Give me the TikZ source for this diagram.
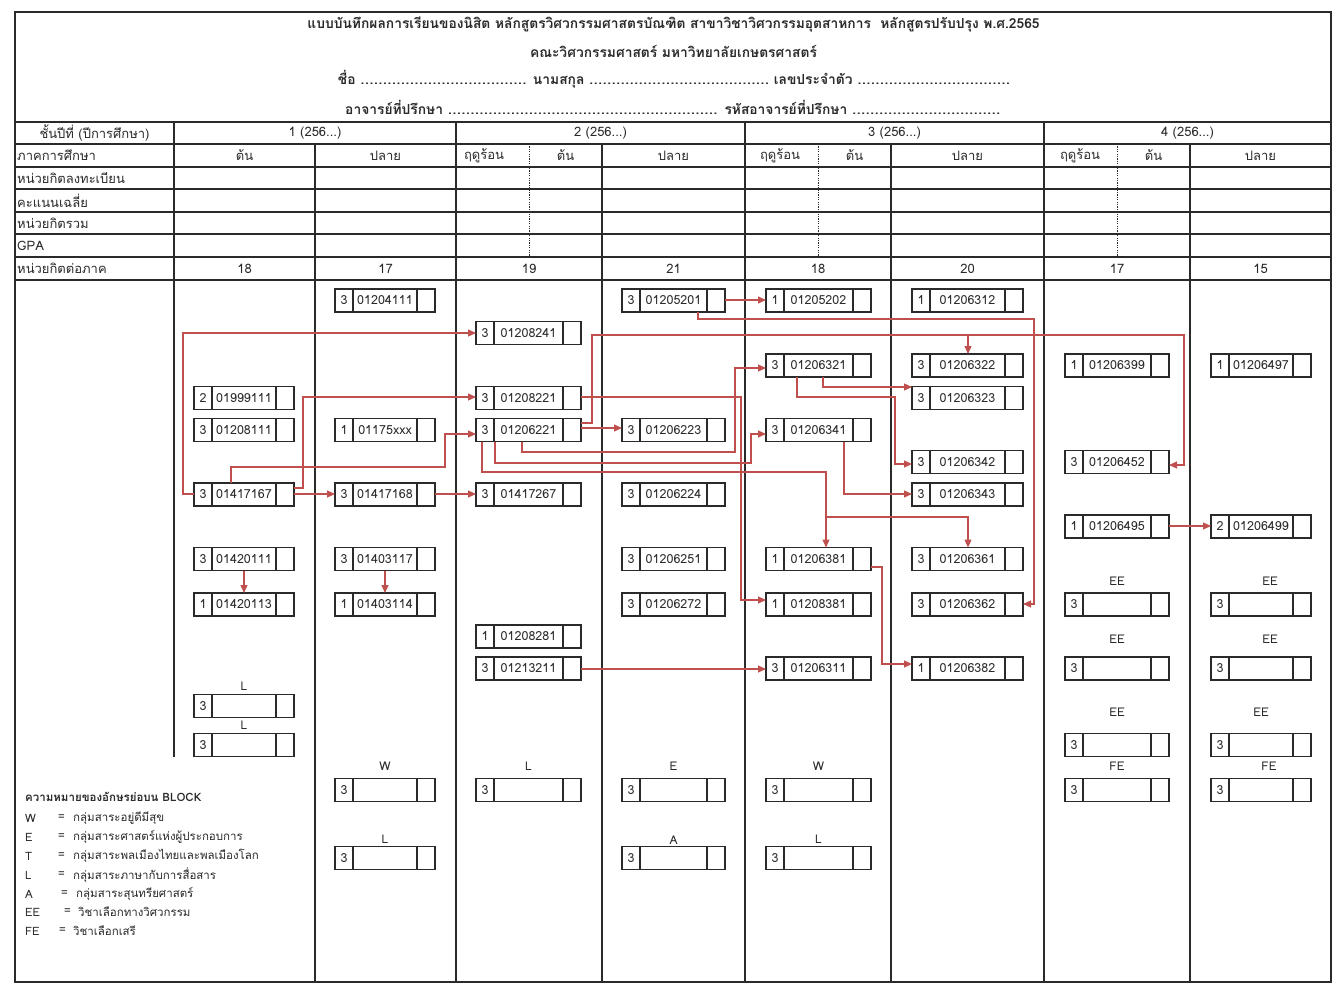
\documentclass[tikz,border=0pt]{standalone}
\usepackage{fontspec}
\setmainfont{Loma}[Script=Thai]
\usetikzlibrary{arrows.meta,calc}
\definecolor{arr}{HTML}{C0504D}
\definecolor{ink}{HTML}{2A2A2A}
\tikzset{
 tbl/.style={line width=1.1pt, draw=ink},
 dotl/.style={line width=0.8pt, draw=ink, dash pattern=on 1.2pt off 1.2pt},
 cbx/.style={draw=ink, line width=1.2pt, minimum height=23pt, inner sep=0pt, outer sep=0pt, fill=white},
 cbline/.style={draw=ink, line width=1.2pt},
 ctxt/.style={font=\fontsize{12.5}{14}\selectfont, inner sep=0pt, text=ink},
 conn/.style={draw=arr, line width=1.1pt, -{Triangle[length=8pt,width=7pt]}},
 hdr/.style={font=\fontsize{13}{15}\selectfont, inner sep=0pt, text=ink},
 hdrl/.style={hdr, anchor=west},
 ttl/.style={font=\bfseries\fontsize{13.8}{16}\selectfont, inner sep=0pt, text=ink},
 lbl/.style={font=\fontsize{12}{14}\selectfont, inner sep=0pt, text=ink},
 leg/.style={font=\fontsize{11.5}{13}\selectfont, inner sep=0pt, anchor=west, text=ink},
}
\newcommand\dts[1]{\makebox[#1pt]{\leaders\hbox to 4.5pt{\hss.\hss}\hfill}}
% name, left x, center y, width, credit, code
\newcommand\crsbox[6]{%
  \node[cbx, minimum width=#4pt, anchor=west] (#1) at (#2,#3) {};
  \draw[cbline] ($(#1.north west)+(18,0)$) -- ($(#1.south west)+(18,0)$);
  \draw[cbline] ($(#1.north east)+(-18,0)$) -- ($(#1.south east)+(-18,0)$);
  \node[ctxt] (#1-cr) at ($(#1.west)+(9,0)$) {#5};
  \node[ctxt] (#1-cd) at (#1.center) {#6};
}
\begin{document}
\begin{tikzpicture}[x=1pt,y=-1pt]
\useasboundingbox (0,0) rectangle (1340,1000);
\fill[white] (0,0) rectangle (1340,1000);
% ---------- table frame ----------
\draw[tbl] (15,12) rectangle (1331,982);
\foreach \y in {122,144,167,189,212,234,257,280} \draw[tbl] (15,\y) -- (1331,\y);
\draw[tbl] (174,122) -- (174,757);
\foreach \x in {456,745,1044} \draw[tbl] (\x,122) -- (\x,982);
\foreach \x in {315,602,891,1190} \draw[tbl] (\x,144) -- (\x,982);
\foreach \x in {529,818,1117} \draw[dotl] (\x,144) -- (\x,257);
% ---------- title ----------
\node[ttl] (ttl1) at (673.5,24) {แบบบันทึกผลการเรียนของนิสิต หลักสูตรวิศวกรรมศาสตรบัณฑิต สาขาวิชาวิศวกรรมอุตสาหการ~~หลักสูตรปรับปรุง พ.ศ.2565};
\node[ttl] (ttl2) at (673.5,51) {คณะวิศวกรรมศาสตร์ มหาวิทยาลัยเกษตรศาสตร์};
\node[ttl] (ttl3) at (674,79) {ชื่อ \dts{168} นามสกุล \dts{180} เลขประจำตัว \dts{153}};
\node[ttl] (ttl4) at (673.5,107) {อาจารย์ที่ปรึกษา \dts{272} รหัสอาจารย์ที่ปรึกษา \dts{150}};
% ---------- header rows ----------
\node[hdr] (h0) at (94.5,133) {ชั้นปีที่ (ปีการศึกษา)};
\node[hdr] (y1) at (315,133) {1 (256...)};
\node[hdr] (y2) at (600.5,133) {2 (256...)};
\node[hdr] (y3) at (894.5,133) {3 (256...)};
\node[hdr] (y4) at (1187.5,133) {4 (256...)};
\node[hdrl] (r2) at (17,155.5) {ภาคการศึกษา};
\node[hdrl] (r3) at (17,178) {หน่วยกิตลงทะเบียน};
\node[hdrl] (r4) at (17,200.5) {คะแนนเฉลี่ย};
\node[hdrl] (r5) at (17,223) {หน่วยกิตรวม};
\node[hdrl] (r6) at (17,245.5) {GPA};
\node[hdrl] (r7) at (17,268.5) {หน่วยกิตต่อภาค};
\node[hdr] (s1) at (244.5,155.5) {ต้น};
\node[hdr] (s2) at (385.5,155.5) {ปลาย};
\node[hdr] (s3) at (484,155.5) {ฤดูร้อน};
\node[hdr] (s4) at (565.5,155.5) {ต้น};
\node[hdr] (s5) at (673.5,155.5) {ปลาย};
\node[hdr] (s6) at (780,155.5) {ฤดูร้อน};
\node[hdr] (s7) at (854.5,155.5) {ต้น};
\node[hdr] (s8) at (967.5,155.5) {ปลาย};
\node[hdr] (s9) at (1080,155.5) {ฤดูร้อน};
\node[hdr] (s10) at (1153.5,155.5) {ต้น};
\node[hdr] (s11) at (1260.5,155.5) {ปลาย};
\node[hdr] (n1) at (244.5,268.5) {18};
\node[hdr] (n2) at (385.5,268.5) {17};
\node[hdr] (n3) at (529,268.5) {19};
\node[hdr] (n4) at (673.5,268.5) {21};
\node[hdr] (n5) at (818,268.5) {18};
\node[hdr] (n6) at (967.5,268.5) {20};
\node[hdr] (n7) at (1117,268.5) {17};
\node[hdr] (n8) at (1260.5,268.5) {15};
% ---------- course boxes ----------
% year 1, first
\crsbox{c01999111}{194}{398}{100}{2}{01999111}
\crsbox{c01208111}{194}{430}{100}{3}{01208111}
\crsbox{c01417167}{194}{494.5}{100}{3}{01417167}
\crsbox{c01420111}{194}{559}{100}{3}{01420111}
\crsbox{c01420113}{194}{604.5}{100}{1}{01420113}
\crsbox{aL1}{194}{706}{100}{3}{}
\crsbox{aL2}{194}{745}{100}{3}{}
% year 1, second
\crsbox{c01204111}{335}{300.5}{100}{3}{01204111}
\crsbox{c01175xxx}{335}{430}{100}{1}{01175xxx}
\crsbox{c01417168}{335}{494.5}{100}{3}{01417168}
\crsbox{c01403117}{335}{559}{100}{3}{01403117}
\crsbox{c01403114}{335}{604.5}{100}{1}{01403114}
\crsbox{bW}{335}{790}{100}{3}{}
\crsbox{bL}{335}{858}{100}{3}{}
% year 2, first
\crsbox{c01208241}{476}{333}{105}{3}{01208241}
\crsbox{c01208221}{476}{398}{105}{3}{01208221}
\crsbox{c01206221}{476}{430}{105}{3}{01206221}
\crsbox{c01417267}{476}{494.5}{105}{3}{01417267}
\crsbox{c01208281}{476}{636.5}{105}{1}{01208281}
\crsbox{c01213211}{476}{668.5}{105}{3}{01213211}
\crsbox{cL}{476}{790}{105}{3}{}
% year 2, second
\crsbox{c01205201}{622}{300.5}{103}{3}{01205201}
\crsbox{c01206223}{622}{430}{103}{3}{01206223}
\crsbox{c01206224}{622}{494.5}{103}{3}{01206224}
\crsbox{c01206251}{622}{559}{103}{3}{01206251}
\crsbox{c01206272}{622}{604.5}{103}{3}{01206272}
\crsbox{dE}{622}{790}{103}{3}{}
\crsbox{dA}{622}{858}{103}{3}{}
% year 3, first
\crsbox{c01205202}{766}{300.5}{105}{1}{01205202}
\crsbox{c01206321}{766}{365.5}{105}{3}{01206321}
\crsbox{c01206341}{766}{430}{105}{3}{01206341}
\crsbox{c01206381}{766}{559}{105}{1}{01206381}
\crsbox{c01208381}{766}{604.5}{105}{1}{01208381}
\crsbox{c01206311}{766}{668.5}{105}{3}{01206311}
\crsbox{eW}{766}{790}{105}{3}{}
\crsbox{eL}{766}{858}{105}{3}{}
% year 3, second
\crsbox{c01206312}{912}{300.5}{111}{1}{01206312}
\crsbox{c01206322}{912}{365.5}{111}{3}{01206322}
\crsbox{c01206323}{912}{398}{111}{3}{01206323}
\crsbox{c01206342}{912}{462}{111}{3}{01206342}
\crsbox{c01206343}{912}{494.5}{111}{3}{01206343}
\crsbox{c01206361}{912}{559}{111}{3}{01206361}
\crsbox{c01206362}{912}{604.5}{111}{3}{01206362}
\crsbox{c01206382}{912}{668.5}{111}{1}{01206382}
% year 4, first
\crsbox{c01206399}{1065}{365.5}{104}{1}{01206399}
\crsbox{c01206452}{1065}{462}{104}{3}{01206452}
\crsbox{c01206495}{1065}{526.5}{104}{1}{01206495}
\crsbox{gEE1}{1065}{604.5}{104}{3}{}
\crsbox{gEE2}{1065}{668.5}{104}{3}{}
\crsbox{gEE3}{1065}{745}{104}{3}{}
\crsbox{gFE}{1065}{790}{104}{3}{}
% year 4, second
\crsbox{c01206497}{1211}{365.5}{100}{1}{01206497}
\crsbox{c01206499}{1211}{526.5}{100}{2}{01206499}
\crsbox{hEE1}{1211}{604.5}{100}{3}{}
\crsbox{hEE2}{1211}{668.5}{100}{3}{}
\crsbox{hEE3}{1211}{745}{100}{3}{}
\crsbox{hFE}{1211}{790}{100}{3}{}
% ---------- labels above blocks ----------
\node[lbl] (laL1) at ($(aL1.north)+(0,-8)$) {L};
\node[lbl] (laL2) at ($(aL2.north)+(0,-8)$) {L};
\node[lbl] (lbW) at ($(bW.north)+(0,-12)$) {W};
\node[lbl] (lbL) at ($(bL.north)+(0,-7)$) {L};
\node[lbl] (lcL) at ($(cL.north)+(0,-12)$) {L};
\node[lbl] (ldE) at ($(dE.north)+(0,-12)$) {E};
\node[lbl] (ldA) at ($(dA.north)+(0,-6)$) {A};
\node[lbl] (leW) at ($(eW.north)+(0,-12)$) {W};
\node[lbl] (leL) at ($(eL.north)+(0,-7)$) {L};
\node[lbl] (lgEE1) at ($(gEE1.north)+(0,-12)$) {EE};
\node[lbl] (lgEE2) at ($(gEE2.north)+(0,-18)$) {EE};
\node[lbl] (lgEE3) at ($(gEE3.north)+(0,-21)$) {EE};
\node[lbl] (lgFE) at ($(gFE.north)+(0,-12)$) {FE};
\node[lbl] (lhEE1) at ($(hEE1.north)+(9,-12)$) {EE};
\node[lbl] (lhEE2) at ($(hEE2.north)+(9,-18)$) {EE};
\node[lbl] (lhEE3) at ($(hEE3.north)+(0,-21)$) {EE};
\node[lbl] (lhFE) at ($(hFE.north)+(8,-12)$) {FE};
% ---------- connectors ----------
\draw[conn] ($(c01417167.west)+(0,-0.5)$) -- ++(-11,0) |- (c01208241.west);
\draw[conn] ($(c01417167.east)+(0,-6.5)$) -- ++(9,0) |- ($(c01208221.west)+(0,-1)$);
\draw[conn] ($(c01417167.north west)+(37,0)$) -- ++(0,-16) -| ($(c01206221.west)+(-31,4)$) -- ($(c01206221.west)+(0,4)$);
\draw[conn] ($(c01417167.east)+(0,-0.5)$) -- ($(c01417168.west)+(0,-0.5)$);
\draw[conn] ($(c01417168.east)+(0,-0.5)$) -- ($(c01417267.west)+(0,-0.5)$);
\draw[conn] ($(c01208221.east)+(0,-1)$) -| ($(c01208381.west)+(-25,-4.5)$) -- ($(c01208381.west)+(0,-4.5)$);
\draw[conn] ($(c01206221.east)+(0,-7)$) -- ++(11,0) |- ($(c01206452.east)+(15,-127)$) |- ($(c01206452.east)+(0,3)$);
\draw[conn] ($(c01206322.north)+(0.5,-19)$) -- ($(c01206322.north)+(0.5,0)$);
\draw[conn] ($(c01206221.east)+(0,-2)$) -- ($(c01206223.west)+(0,-2)$);
\draw[conn] ($(c01206221.south west)+(46,0)$) -- ++(0,10.5) -| ($(c01206321.west)+(-31,2.5)$) -- ($(c01206321.west)+(0,2.5)$);
\draw[conn] ($(c01206221.south west)+(19,0)$) -- ++(0,21.5) -| ($(c01206341.west)+(-15,4)$) -- ($(c01206341.west)+(0,4)$);
\draw[conn] ($(c01206221.south west)+(6,0)$) -- ++(0,30.5) -| ($(c01206381.north)+(7.5,0)$);
\draw[conn] ($(c01206381.north)+(7.5,-30.5)$) -| ($(c01206361.north)+(0.5,0)$);
\draw[conn] ($(c01205201.east)+(0,-0.5)$) -- ($(c01205202.west)+(0,-0.5)$);
\draw[conn] ($(c01205201.south west)+(76,0)$) -- ++(0,7) -| ($(c01206362.east)+(11,-0.5)$) -- ($(c01206362.east)+(0,-0.5)$);
\draw[conn] ($(c01206321.south west)+(57,0)$) |- ($(c01206323.west)+(0,-11)$);
\draw[conn] ($(c01206321.south west)+(31,0)$) -- ++(0,20) -| ($(c01206342.west)+(-17,2)$) -- ($(c01206342.west)+(0,2)$);
\draw[conn] ($(c01206341.south west)+(78,0)$) |- ($(c01206343.west)+(0,-0.5)$);
\draw[conn] ($(c01206381.east)+(0,8)$) -- ++(11,0) |- ($(c01206382.west)+(0,-4.5)$);
\draw[conn] ($(c01213211.east)+(0,0.5)$) -- ($(c01206311.west)+(0,0.5)$);
\draw[conn] ($(c01206495.east)+(0,-0.5)$) -- ($(c01206499.west)+(0,-0.5)$);
\draw[conn] (c01420111.south) -- (c01420113.north);
\draw[conn] (c01403117.south) -- (c01403114.north);
% ---------- legend ----------
\node[leg, font=\bfseries\fontsize{11.5}{13}\selectfont] (lg0) at (25,797) {ความหมายของอักษรย่อบน BLOCK};
\node[leg] (lgW) at (25,818) {W};   \node[leg] (lgWe) at (58,818) {=};  \node[leg] (lgWt) at (73,818) {กลุ่มสาระอยู่ดีมีสุข};
\node[leg] (lgE) at (25,837) {E};   \node[leg] (lgEe) at (58,837) {=};  \node[leg] (lgEt) at (73,837) {กลุ่มสาระศาสตร์แห่งผู้ประกอบการ};
\node[leg] (lgT) at (25,856) {T};   \node[leg] (lgTe) at (58,856) {=};  \node[leg] (lgTt) at (73,856) {กลุ่มสาระพลเมืองไทยและพลเมืองโลก};
\node[leg] (lgL) at (25,875) {L};   \node[leg] (lgLe) at (58,875) {=};  \node[leg] (lgLt) at (73,875) {กลุ่มสาระภาษากับการสื่อสาร};
\node[leg] (lgA) at (25,894) {A};   \node[leg] (lgAe) at (61,894) {=};  \node[leg] (lgAt) at (76,894) {กลุ่มสาระสุนทรียศาสตร์};
\node[leg] (lgEE) at (25,912) {EE}; \node[leg] (lgEEe) at (64,912) {=}; \node[leg] (lgEEt) at (78,912) {วิชาเลือกทางวิศวกรรม};
\node[leg] (lgFE) at (25,931) {FE}; \node[leg] (lgFEe) at (59,931) {=}; \node[leg] (lgFEt) at (73,931) {วิชาเลือกเสรี};
\end{tikzpicture}
\end{document}
